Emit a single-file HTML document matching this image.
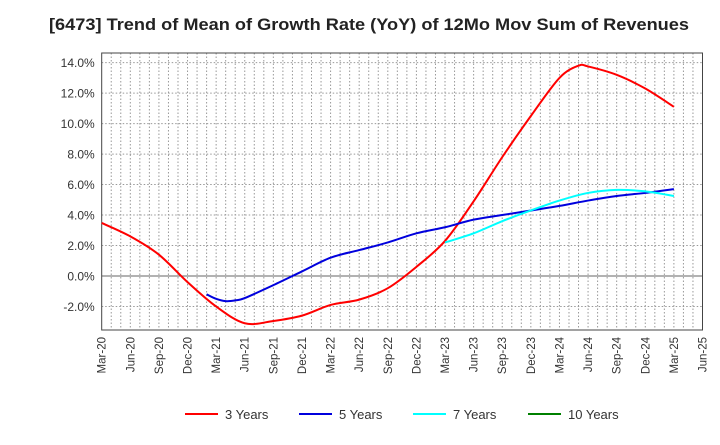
<!DOCTYPE html>
<html><head><meta charset="utf-8"><style>
body{margin:0;background:#fff;font-family:"Liberation Sans",Arial,sans-serif}
svg text{font-family:"Liberation Sans",Arial,sans-serif}
</style></head><body>
<svg id="c" width="720" height="440" xmlns="http://www.w3.org/2000/svg">
<text x="369" y="30" text-anchor="middle" font-size="17" font-weight="bold" fill="#222" textLength="640" lengthAdjust="spacingAndGlyphs">[6473]  Trend of Mean of Growth Rate (YoY) of 12Mo Mov Sum of Revenues</text>
<g id="grid"></g><g id="axes"></g><g id="series"></g><g id="legend"></g>
</svg>
<script>
const xLabels=["Mar-20","Jun-20","Sep-20","Dec-20","Mar-21","Jun-21","Sep-21","Dec-21","Mar-22","Jun-22","Sep-22","Dec-22","Mar-23","Jun-23","Sep-23","Dec-23","Mar-24","Jun-24","Sep-24","Dec-24","Mar-25","Jun-25"];
const yTicks=[-2,0,2,4,6,8,10,12,14];
// month index from Mar-20 (0), value %
const red3M=[0,3,6,9,12,15,18,21,24,27,30,33,36,39,42,45,48,50,51,54,57,60];
const red3V=[3.48,2.6,1.4,-0.4,-2.0,-3.1,-2.95,-2.6,-1.9,-1.55,-0.8,0.6,2.3,4.9,7.8,10.5,13.0,13.8,13.75,13.2,12.3,11.1];
const blue5M=[11,12,13,14,15,18,21,24,27,30,33,36,39,42,45,48,51,54,57,60];
const blue5V=[-1.2,-1.5,-1.65,-1.6,-1.45,-0.6,0.3,1.2,1.7,2.2,2.8,3.2,3.7,4.0,4.3,4.6,4.95,5.25,5.45,5.7];
const cyan7M=[36,39,42,45,48,51,54,57,60];
const cyan7V=[2.2,2.8,3.6,4.3,4.95,5.45,5.65,5.55,5.25];
const green10M=[];const green10V=[];
const L=101.7,R=702.5,T=53,B=330;
const X=m=>L+m*(R-L)/63;
const Y=v=>276-v*15.24;
const NS="http://www.w3.org/2000/svg";
function mk(p,t,a){const e=document.createElementNS(NS,t);for(const k in a)e.setAttribute(k,a[k]);p.appendChild(e);return e;}
const grid=document.getElementById('grid'),axes=document.getElementById('axes'),ser=document.getElementById('series'),leg=document.getElementById('legend');
for(let m=1;m<63;m++){const g=mk(grid,'line',{x1:X(m),x2:X(m),y1:T,y2:B,stroke:'#999','stroke-dasharray':'1.5,2','stroke-width':1});

}
yTicks.forEach(v=>{const g=mk(grid,'line',{x1:L,x2:R,y1:Y(v),y2:Y(v),stroke:v===0?'#666':'#999','stroke-dasharray':v===0?'':'1.5,2','stroke-width':1});


const t=mk(axes,'text',{x:L-7,y:Y(v)+4.5,'text-anchor':'end','font-size':12,fill:'#333'});t.textContent=v.toFixed(1)+'%';

});
const fr=mk(axes,'rect',{x:L,y:T,width:R-L,height:B-T,fill:'none',stroke:'#444','stroke-width':1});


xLabels.forEach((s,i)=>{const x=X(i*3);const t=mk(axes,'text',{x:0,y:0,'text-anchor':'end','font-size':11.5,fill:'#333',transform:`translate(${x+4},${B+7}) rotate(-90)`});t.textContent=s;

});
function path(ms,vs){const p=ms.map((m,i)=>[X(m),Y(vs[i])]);if(!p.length)return'';let d=`M${p[0][0]},${p[0][1]}`;
for(let i=0;i<p.length-1;i++){const p0=p[i-1]||p[i],p1=p[i],p2=p[i+1],p3=p[i+2]||p2;
d+=` C${p1[0]+(p2[0]-p0[0])/6},${p1[1]+(p2[1]-p0[1])/6} ${p2[0]-(p3[0]-p1[0])/6},${p2[1]-(p3[1]-p1[1])/6} ${p2[0]},${p2[1]}`;}return d;}
const S=[[red3M,red3V,'#ff0000','3 Years','line-3-years'],[blue5M,blue5V,'#0000dd','5 Years','line-5-years'],[cyan7M,cyan7V,'#00ffff','7 Years','line-7-years'],[green10M,green10V,'#008000','10 Years','line-10-years']];
S.forEach((s,i)=>{if(s[0].length){const p=mk(ser,'path',{d:path(s[0],s[1]),fill:'none',stroke:s[2],'stroke-width':2});

}
const lx=[185,299,413,528][i];
const g=mk(leg,'g',{});


mk(g,'line',{x1:lx,x2:lx+33,y1:414,y2:414,stroke:s[2],'stroke-width':2});
const t=mk(g,'text',{x:lx+40,y:419,'font-size':13,fill:'#333'});t.textContent=s[3];});
</script>
</body></html>
